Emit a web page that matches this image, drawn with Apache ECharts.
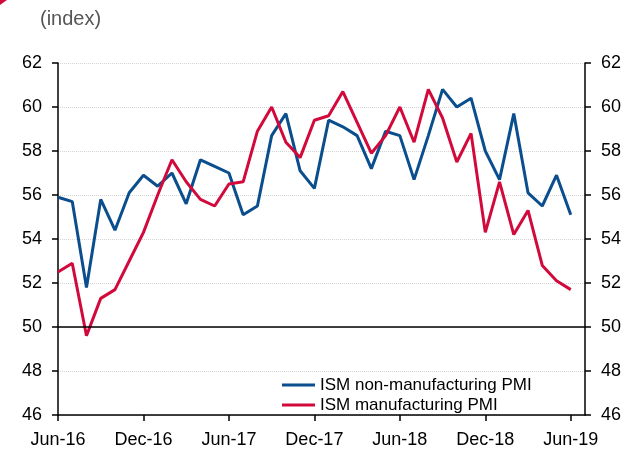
<!DOCTYPE html>
<html>
<head>
<meta charset="utf-8">
<script src="https://cdn.jsdelivr.net/npm/echarts@6/dist/echarts.min.js"></script>
<style>
html,body{margin:0;padding:0;background:#fff;}
#chart{width:629px;height:450px;}
</style>
</head>
<body>
<div id="chart"></div>
<script>
var categories = ['Jun-16','Jul-16','Aug-16','Sep-16','Oct-16','Nov-16','Dec-16','Jan-17','Feb-17','Mar-17','Apr-17','May-17',
  'Jun-17','Jul-17','Aug-17','Sep-17','Oct-17','Nov-17','Dec-17','Jan-18','Feb-18','Mar-18','Apr-18','May-18',
  'Jun-18','Jul-18','Aug-18','Sep-18','Oct-18','Nov-18','Dec-18','Jan-19','Feb-19','Mar-19','Apr-19','May-19',
  'Jun-19','Jul-19'];
var nonManufacturing = [55.9,55.7,51.8,55.8,54.4,56.1,56.9,56.4,57.0,55.6,57.6,57.3,
  57.0,55.1,55.5,58.7,59.7,57.1,56.3,59.4,59.1,58.7,57.2,58.9,
  58.7,56.7,58.7,60.8,60.0,60.4,58.0,56.7,59.7,56.1,55.5,56.9,55.1];
var manufacturing = [52.5,52.9,49.6,51.3,51.7,53.0,54.3,56.0,57.6,56.6,55.8,55.5,
  56.5,56.6,58.9,60.0,58.4,57.7,59.4,59.6,60.7,59.3,57.9,58.7,
  60.0,58.4,60.8,59.5,57.5,58.8,54.3,56.6,54.2,55.3,52.8,52.1,51.7];
var seriesNames = ['ISM non-manufacturing PMI','ISM manufacturing PMI'];
var yMin = 46, yMax = 62, yStep = 2;
var refLine = 50;

var font = '"Liberation Sans", Arial, sans-serif';
var chart = echarts.init(document.getElementById('chart'), null, {renderer:'canvas'});
function yAxisCfg(pos, split){
  return {
    type:'value', position:pos, min:yMin, max:yMax, interval:yStep,
    axisLine:{show:true, lineStyle:{color:'#000', width:1.5}},
    axisTick:{show:true, inside:false, length:6, lineStyle:{color:'#000', width:1.5}},
    axisLabel:{color:'#000', fontSize:18, fontFamily:font, margin:16},
    splitLine:{show:split, lineStyle:{color:'#d4d4d4', type:'dotted', width:1}}
  };
}
chart.setOption({
  animation:false,
  grid:{left:58, right:44, top:63, bottom:35, containLabel:false},
  graphic:[
    {type:'text', left:40, top:9, style:{text:'(index)', fill:'#555', fontSize:20, fontFamily:font}},
    {type:'polygon', shape:{points:[[0,0],[7,0],[0,5]]}, style:{fill:'#d20a3c'}}
  ],
  legend:{
    orient:'vertical', left:282, top:375, padding:0,
    itemWidth:33, itemHeight:3, itemGap:0, icon:'rect',
    textStyle:{color:'#000', fontSize:17, fontFamily:font, lineHeight:20},
    data:seriesNames
  },
  xAxis:{
    type:'category', data:categories, boundaryGap:false,
    axisLine:{show:true, onZero:false, lineStyle:{color:'#000', width:1.5}},
    axisTick:{show:true, interval:5, length:6, lineStyle:{color:'#000', width:1.5}},
    axisLabel:{interval:5, color:'#000', fontSize:18, fontFamily:font, margin:16},
    splitLine:{show:false}
  },
  yAxis:[yAxisCfg('left', true), yAxisCfg('right', false)],
  series:[
    {name:seriesNames[0], type:'line', data:nonManufacturing, yAxisIndex:0, symbol:'none',
     color:'#0a4e8e', lineStyle:{width:3, color:'#0a4e8e'},
     markLine:{silent:true, symbol:'none', label:{show:false},
       lineStyle:{color:'#000', type:'solid', width:1.5}, data:[{yAxis:refLine}]}},
    {name:seriesNames[1], type:'line', data:manufacturing, yAxisIndex:0, symbol:'none',
     color:'#d20a3c', lineStyle:{width:3, color:'#d20a3c'}}
  ]
});
</script>
</body>
</html>
